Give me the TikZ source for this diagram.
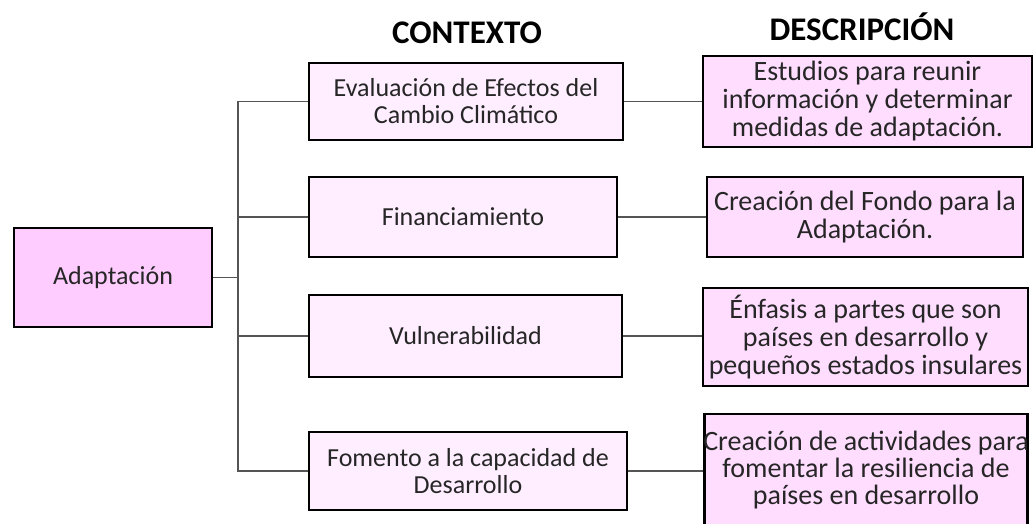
\documentclass[tikz,border=0pt]{standalone}
\usepackage{fontspec}
\setmainfont{Carlito}
\definecolor{mainfill}{HTML}{FFCCFF}
\definecolor{ctxfill}{HTML}{FFEEFF}
\definecolor{descfill}{HTML}{FFDDFF}
\definecolor{textc}{HTML}{262626}
\definecolor{linec}{HTML}{555555}
\begin{document}
\begin{tikzpicture}[x=1pt,y=-1pt,
  mainbox/.style={draw=black,line width=2.2pt,fill=mainfill,text=textc,
    font=\fontsize{26}{28}\selectfont,inner sep=0pt,align=center},
  ctxbox/.style={draw=black,line width=2pt,fill=ctxfill,text=textc,
    font=\fontsize{26}{27}\selectfont,inner sep=0pt,align=center},
  descbox/.style={draw=black,line width=2.4pt,fill=descfill,text=textc,
    font=\fontsize{28}{28}\selectfont,inner sep=0pt,align=center},
  header/.style={font=\fontsize{33}{36}\selectfont\bfseries,text=black},
  conn/.style={draw=linec,line width=1.4pt}
]
\useasboundingbox (0,0) rectangle (1033,523);
\begin{scope}
\clip (0,0) rectangle (1033,523);
% headers
\node[header] (h1) at (467,33) {CONTEXTO};
\node[header] (h2) at (862,27) {DESCRIPCIÓN};

% root
\node[mainbox,minimum width=198pt,minimum height=99pt] (root) at (113,277.5) {Adaptación};

% context
\node[ctxbox,minimum width=314pt,minimum height=77pt] (c1) at (466,101.5) {Evaluación de Efectos del\\Cambio Climático};
\node[ctxbox,minimum width=308pt,minimum height=80pt] (c2) at (463,217) {Financiamiento};
\node[ctxbox,minimum width=313pt,minimum height=82pt] (c3) at (465.5,336) {Vulnerabilidad};
\node[ctxbox,minimum width=318pt,minimum height=78pt] (c4) at (468,471) {Fomento a la capacidad de\\Desarrollo};

% descriptions
\node[descbox,minimum width=329pt,minimum height=91pt] (d1) at (867.5,101.5) {Estudios para reunir\\información y determinar\\medidas de adaptación.};
\node[descbox,minimum width=316pt,minimum height=80pt] (d2) at (865,217) {Creación del Fondo para la\\Adaptación.};
\node[descbox,minimum width=325pt,minimum height=98pt] (d3) at (865.5,337) {Énfasis a partes que son\\países en desarrollo y\\pequeños estados insulares};
\node[descbox,minimum width=323pt,minimum height=124pt] (d4) at (866,476) {};
\node[text=textc,font=\fontsize{28}{27}\selectfont,align=center,inner sep=0pt] (d4t) at (866,470) {Creación de actividades para\\fomentar la resiliencia de\\países en desarrollo};

% connectors
\coordinate (j) at (238,277.5);
\draw[conn] (root.east) -- (j);
\draw[conn] (c1.west) -| (c4.west -| j) -- (c4.west);
\draw[conn] (c2.west) -- (c2.west -| j);
\draw[conn] (c3.west) -- (c3.west -| j);
\draw[conn] (c1.east) -- (d1.west |- c1.east);
\draw[conn] (c2.east) -- (d2.west |- c2.east);
\draw[conn] (c3.east) -- (d3.west |- c3.east);
\draw[conn] (c4.east) -- (d4.west |- c4.east);
\end{scope}
\end{tikzpicture}
\end{document}
